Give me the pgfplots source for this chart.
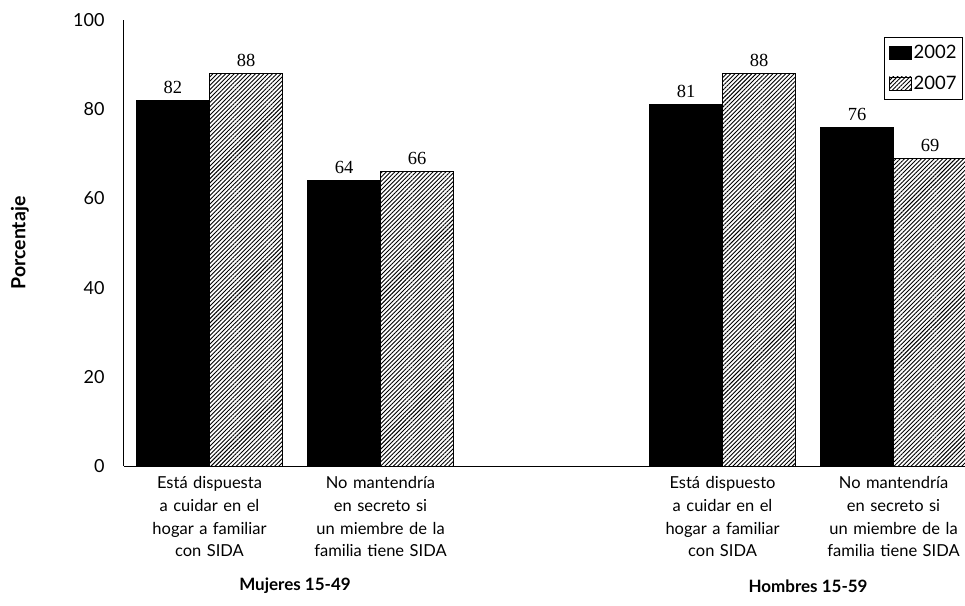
\documentclass[border=0pt]{standalone}
\usepackage{fontspec}
\setmainfont{Lato}
\newfontfamily\seriffont{Liberation Serif}
\usepackage{pgfplots}
\pgfplotsset{compat=1.18}
\usetikzlibrary{patterns.meta}
\begin{document}
\begin{tikzpicture}
\begin{axis}[
  scale only axis, width=841pt, height=446pt,
  xmin=-0.5, xmax=4.418, ymin=0, ymax=100,
  axis x line*=bottom, axis y line*=left,
  axis line style={line width=1pt},
  ytick={0,20,...,100},
  xtick={0,1,3,4},
  xticklabels={{Está dispuesta\\a cuidar en el\\hogar a familiar\\con SIDA},
               {No mantendría\\en secreto si\\un miembre de la\\familia tiene SIDA},
               {Está dispuesto\\a cuidar en el\\hogar a familiar\\con SIDA},
               {No mantendría\\en secreto si\\un miembre de la\\familia tiene SIDA}},
  major tick length=0pt,
  ybar=0pt, bar width=0.427,
  /pgf/number format/assume math mode=true,
  yticklabel style={font=\fontsize{18}{22}\selectfont, xshift=-16pt},
  xticklabel style={font=\fontsize{16.5}{22.7}\selectfont, align=center, text width=170pt, yshift=-7pt},
  every axis y label/.style={at={(axis description cs:-0.1237,0.5)}, rotate=90, anchor=center, font=\bfseries\fontsize{19.5}{22}\selectfont},
  ylabel={Porcentaje},
  nodes near coords,
  every node near coord/.append style={font=\seriffont\fontsize{18.5}{20}\selectfont, text=black, anchor=south, yshift=3pt},
  legend style={at={(rel axis cs:1,1)}, anchor=north east, xshift=-2pt, yshift=-17pt,
    draw=black, line width=1pt, font=\fontsize{18.5}{22}\selectfont, row sep=12pt,
    inner xsep=4pt, inner ysep=6pt, cells={anchor=west}},
  legend image code/.code={\draw[#1, line width=0.6pt] (0pt,-6pt) rectangle (22pt,7pt);},
]
\addplot[fill=black, draw=black, line width=0.8pt] coordinates {(0,82) (1,64) (3,81) (4,76)};
\addplot[draw=black, line width=0.8pt, pattern={Lines[angle=45, distance=3pt, line width=0.9pt]}] coordinates {(0,88) (1,66) (3,88) (4,69)};
\legend{2002,2007}
\coordinate (bl) at (rel axis cs:0,0);
\coordinate (m) at (axis cs:0.5,0);
\coordinate (h) at (axis cs:3.5,0);
\end{axis}
\node[font=\bfseries\fontsize{17}{20}\selectfont] at ([yshift=-120pt]m) {Mujeres 15-49};
\node[font=\bfseries\fontsize{17}{20}\selectfont] at ([yshift=-120pt]h) {Hombres 15-59};
\pgfresetboundingbox
\path[use as bounding box] ([xshift=-124pt,yshift=-139pt]bl) rectangle ([xshift=841pt,yshift=466pt]bl);
\end{tikzpicture}
\end{document}
